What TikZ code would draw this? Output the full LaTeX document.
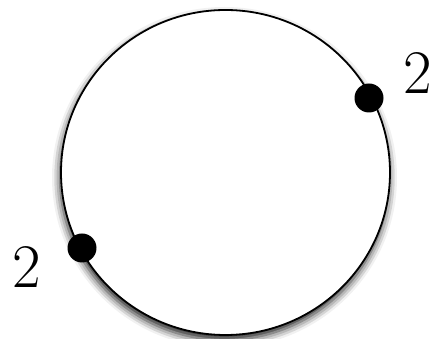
\documentclass[tikz,border=0pt]{standalone}
\usetikzlibrary{shapes.geometric,shadows.blur}
\begin{document}
\begin{tikzpicture}[x=1pt,y=1pt,
  ring/.style={draw=black, line width=1.8pt, fill=white, ellipse, inner sep=0pt,
    blur shadow={shadow xshift=-1pt, shadow yshift=-5pt, shadow blur radius=8pt, shadow opacity=90}},
  vdot/.style={circle, fill=black, inner sep=0pt, minimum size=29pt},
  lab/.style={font=\fontsize{62}{62}\selectfont, inner sep=0pt}]
\useasboundingbox (0,0) rectangle (432,339);
\node[ring, minimum width=329pt, minimum height=325pt] (c) at (225.5,166.5) {};
\node[vdot] (d1) at (369,241) {};
\node[vdot] (d2) at (82,91) {};
\node[lab] (l1) at (418,266) {2};
\node[lab] (l2) at (27,72) {2};
\end{tikzpicture}
\end{document}
